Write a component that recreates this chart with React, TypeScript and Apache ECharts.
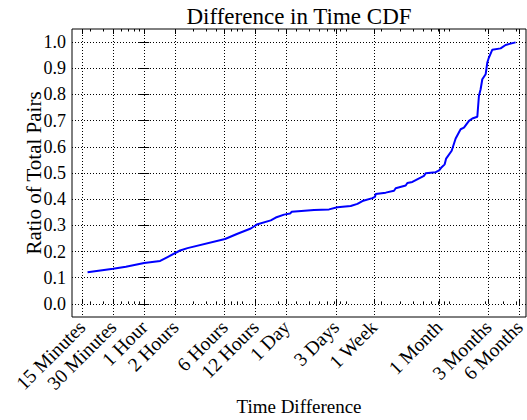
import { useEffect, useRef } from "react";
import * as echarts from "echarts";

// Time difference in hours, and cumulative ratio of total pairs
const hours = [
  0.283, 0.501, 0.665, 1.0, 1.429, 1.685, 2.231, 2.63, 6.08, 8.02, 10.79, 12.33,
  16.85, 18.84, 22.66, 25.9, 26.9, 44.2, 61.8, 74.5, 100.2, 116.4, 130.1, 162.5,
  172.3, 175, 218.6, 263.2, 273.3, 341.6, 354.6, 396.5, 513.6, 533.6, 666.4, 721,
  762, 815, 842, 953, 1041, 1163, 1253, 1401, 1511, 1688, 1749, 1817, 1887, 2032,
  2110, 2187, 2360, 2839, 3172, 3963,
];
const ratios = [
  0.121, 0.134, 0.142, 0.156, 0.164, 0.179, 0.204, 0.213, 0.248, 0.268, 0.288, 0.303,
  0.319, 0.33, 0.341, 0.345, 0.352, 0.359, 0.361, 0.369, 0.374, 0.382, 0.393, 0.404,
  0.409, 0.42, 0.425, 0.432, 0.442, 0.452, 0.462, 0.466, 0.489, 0.499, 0.503, 0.51,
  0.522, 0.533, 0.555, 0.585, 0.632, 0.667, 0.673, 0.699, 0.708, 0.715, 0.794, 0.82,
  0.858, 0.877, 0.922, 0.941, 0.971, 0.976, 0.989, 0.999,
];

const majorTickHours = [0.25, 0.5, 1, 2, 6, 12, 24, 72, 168, 720, 2160, 4320];
const majorTickLabels = [
  "15 Minutes", "30 Minutes", "1 Hour", "2 Hours", "6 Hours", "12 Hours",
  "1 Day", "3 Days", "1 Week", "1 Month", "3 Months", "6 Months",
];
const minorTickHours = [
  0.3, 0.4, 0.5, 0.6, 0.7, 0.8, 0.9,
  2, 3, 4, 5, 6, 7, 8, 9,
  20, 30, 40, 50, 60, 70, 80, 90,
  200, 300, 400, 500, 600, 700, 800, 900,
  2000, 3000, 4000,
];
const yTicks = [0, 0.1, 0.2, 0.3, 0.4, 0.5, 0.6, 0.7, 0.8, 0.9, 1.0];
const xRangeHours = [0.2, 5000];
const yRange = [-0.05, 1.05];

const FONT = "Liberation Serif";

export default function App() {
  const ref = useRef<HTMLDivElement>(null);

  useEffect(() => {
    document.body.style.margin = "0";
    if (!ref.current) return;
    const chart = echarts.init(ref.current, null, { renderer: "svg" });

    const lg = (v: number) => Math.log10(v);
    const majorsLog = majorTickHours.map(lg);
    const minorsLog = minorTickHours.map(lg);
    const xMin = lg(xRangeHours[0]);
    const xMax = lg(xRangeHours[1]);

    const labelFor = (v: number) => {
      let best = 0;
      let bd = Infinity;
      majorsLog.forEach((m, i) => {
        const d = Math.abs(m - v);
        if (d < bd) {
          bd = d;
          best = i;
        }
      });
      return majorTickLabels[best];
    };

    const dotted = { color: "#000", width: 1, type: [1, 2] as number[] };

    const baseX = {
      type: "value" as const,
      min: xMin,
      max: xMax,
      gridIndex: 0,
      axisLine: { show: false },
      splitLine: { show: false },
      axisLabel: { show: false },
    };

    const option: any = {
      animation: false,
      title: {
        text: "Difference in Time CDF",
        left: 299,
        top: 5,
        padding: 0,
        textAlign: "center",
        textStyle: { fontFamily: FONT, fontSize: 23, fontWeight: "normal", color: "#000" },
      },
      grid: {
        left: 72,
        right: 1,
        top: 29,
        bottom: 103,
        outerBoundsMode: "none",
        containLabel: false,
        show: true,
        borderColor: "#000",
        borderWidth: 1,
        backgroundColor: "transparent",
      },
      xAxis: [
        {
          ...baseX,
          position: "bottom",
          name: "Time Difference",
          nameLocation: "middle",
          nameGap: 80,
          nameMoveOverlap: false,
          nameTextStyle: { fontFamily: FONT, fontSize: 19, color: "#000" },
          axisTick: {
            show: true,
            inside: true,
            length: 5,
            customValues: majorsLog,
            lineStyle: { color: "#000", width: 1 },
          },
          axisLabel: {
            show: true,
            customValues: majorsLog,
            rotate: 45,
            margin: 7,
            fontFamily: FONT,
            fontSize: 19.5,
            color: "#000",
            formatter: (v: number) => labelFor(v),
          },
          splitLine: { show: true, lineStyle: dotted },
        },
        {
          ...baseX,
          position: "bottom",
          axisTick: {
            show: true,
            inside: true,
            length: 2.5,
            customValues: minorsLog,
            lineStyle: { color: "#000", width: 1 },
          },
        },
        {
          ...baseX,
          position: "top",
          axisTick: {
            show: true,
            inside: true,
            length: 5,
            customValues: majorsLog,
            lineStyle: { color: "#000", width: 1 },
          },
        },
        {
          ...baseX,
          position: "top",
          axisTick: {
            show: true,
            inside: true,
            length: 2.5,
            customValues: minorsLog,
            lineStyle: { color: "#000", width: 1 },
          },
        },
      ],
      yAxis: [
        {
          type: "value",
          min: yRange[0],
          max: yRange[1],
          position: "left",
          name: "Ratio of Total Pairs",
          nameLocation: "middle",
          nameRotate: 90,
          nameGap: 28,
          nameMoveOverlap: false,
          nameTextStyle: { fontFamily: FONT, fontSize: 21, color: "#000" },
          axisLine: { show: false },
          axisTick: {
            show: true,
            inside: true,
            length: 5,
            customValues: yTicks,
            lineStyle: { color: "#000", width: 1 },
          },
          axisLabel: {
            customValues: yTicks,
            margin: 6,
            fontFamily: FONT,
            fontSize: 18,
            color: "#000",
            formatter: (v: number) => v.toFixed(1),
          },
          splitLine: { show: true, lineStyle: dotted },
        },
        {
          type: "value",
          min: yRange[0],
          max: yRange[1],
          position: "right",
          axisLine: { show: false },
          axisTick: {
            show: true,
            inside: true,
            length: 5,
            customValues: yTicks,
            lineStyle: { color: "#000", width: 1 },
          },
          axisLabel: { show: false },
          splitLine: { show: false },
        },
      ],
      series: [
        {
          type: "line",
          xAxisIndex: 0,
          yAxisIndex: 0,
          data: hours.map((h, i) => [lg(h), ratios[i]]),
          showSymbol: false,
          symbol: "none",
          lineStyle: { color: "#0000ff", width: 2 },
          itemStyle: { color: "#0000ff" },
        },
      ],
    };

    chart.setOption(option);
    return () => chart.dispose();
  }, []);

  return <div ref={ref} style={{ width: 527, height: 420 }} />;
}
